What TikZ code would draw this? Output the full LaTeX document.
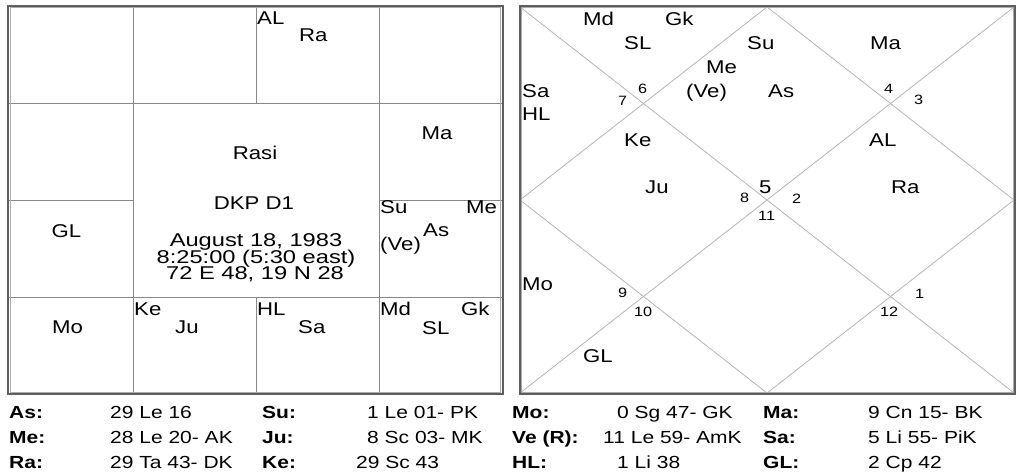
\documentclass[tikz,border=0pt]{standalone}
\usepackage{fontspec}
\setmainfont{Liberation Sans}[FakeStretch=1.2]
\newfontfamily\datefont{Liberation Sans}[FakeStretch=1.28]
\usetikzlibrary{positioning}
\definecolor{gridgray}{HTML}{888888}
\definecolor{diaggray}{HTML}{B4B4B4}
\definecolor{framedark}{HTML}{5E5E5E}
\definecolor{framelight}{HTML}{ABABAB}
\tikzset{
  chartframe/.style={draw=framedark, line width=2pt},
  chartinner/.style={draw=framelight, line width=0.9pt},
  gridline/.style={draw=gridgray, line width=1pt},
  diagline/.style={draw=diaggray, line width=0.8pt},
  planet/.style={anchor=base west, inner sep=0pt,
                 font=\fontsize{18.5}{20}\selectfont},
  planetmid/.style={planet, anchor=base},
  housenum/.style={anchor=base west, inner sep=0pt,
                   font=\fontsize{13.5}{16}\selectfont},
  datetext/.style={anchor=base, inner sep=0pt,
                   font=\datefont\fontsize{18.5}{20}\selectfont},
  tabkey/.style={anchor=base west, inner sep=0pt,
                 font=\fontsize{17.5}{20}\selectfont\bfseries},
  tabval/.style={anchor=base west, inner sep=0pt,
                 font=\fontsize{17.5}{20}\selectfont}
}

\begin{document}
\begin{tikzpicture}[x=1pt, y=-1pt]
  \useasboundingbox (0,0) rectangle (1024,475);

  % rasi chart, south style
  \draw[gridline] (133,7) -- (133,393) (379,7) -- (379,393);
  \draw[gridline] (8,103) -- (502,103) (8,297) -- (502,297);
  \draw[gridline] (256,7) -- (256,103) (256,297) -- (256,393);
  \draw[gridline] (8,200) -- (133,200) (379,200) -- (502,200);
  \draw[chartinner] (10,7.8) rectangle (500.5,392.2);
  \draw[chartframe] (8,6) rectangle (502.5,394);

  % rasi chart, north style
  \coordinate (nw) at (520,7);
  \coordinate (ne) at (1014,7);
  \coordinate (sw) at (520,393);
  \coordinate (se) at (1014,393);
  \coordinate (top) at (767,7);
  \coordinate (bot) at (767,393);
  \coordinate (lft) at (520,200);
  \coordinate (rgt) at (1014,200);
  \draw[diagline] (nw) -- (se) (sw) -- (ne);
  \draw[diagline] (top) -- (rgt) -- (bot) -- (lft) -- cycle;
  \draw[chartinner] (521.8,7.8) rectangle (1013.2,392.2);
  \draw[chartframe] (519.8,6) rectangle (1015,394);

  % planets in the square chart
  \foreach \x/\y/\t [count=\i] in {257/24/AL, 299/41/Ra, 380/213/Su,
      466/213/Me, 423/236/As, 380/250/{(Ve)}, 134/315/Ke, 175/333/Ju,
      257/315/HL, 298/333/Sa, 380/315/Md, 461/315/Gk, 422/334/SL}
    \node[planet] (sq\i) at (\x,\y) {\t};
  \node[planetmid] (sqma) at (437,139) {Ma};
  \node[planetmid] (sqgl) at (66.5,237) {GL};
  \node[planetmid] (sqmo) at (67.5,333) {Mo};
  \node[planetmid] (rasi) at (255,159) {Rasi};
  \node[planetmid] (dkp) at (254,209) {DKP D1};
  \node[datetext] (date1) at (256,246.5) {August 18, 1983};
  \node[datetext] (date2) at (256,263) {8:25:00 (5:30 east)};
  \node[datetext] (date3) at (255,279.5) {72 E 48, 19 N 28};

  % planets in the diamond chart
  \foreach \x/\y/\t [count=\i] in {583/25/Md, 665/25/Gk, 624/49/SL,
      747/49/Su, 870/49/Ma, 706/73/Me, 686/97/{(Ve)}, 768/97/As,
      522/97/Sa, 522/120/HL, 624/146/Ke, 869/146/AL, 645/193/Ju,
      891/193/Ra, 522/290/Mo, 583/362/GL}
    \node[planet] (dm\i) at (\x,\y) {\t};
  \node[planet] (lagna) at (759,193) {5};
  \foreach \x/\y/\h in {638/93/6, 618/105/7, 884/93/4, 914/104/3,
      740/202/8, 792/203/2, 758/220/11, 618/297/9, 634/316/10,
      915/298/1, 880/316/12}
    \node[housenum] (h\h) at (\x,\y) {\h};

  % longitudes
  \foreach \x/\y/\k [count=\i] in {9/418/As, 9/443/Me, 9/468/Ra,
      262/418/Su, 262/443/Ju, 262/468/Ke, 512/418/Mo,
      512/443/{Ve (R)}, 512/468/HL, 763/418/Ma, 763/443/Sa, 763/468/GL}
    \node[tabkey] (key\i) at (\x,\y) {\k:};
  \foreach \x/\y/\v [count=\i] in {110/418/29 Le 16,
      110/443/28 Le 20- AK, 110/468/29 Ta 43- DK,
      367/418/1 Le 01- PK, 367/443/8 Sc 03- MK, 356/468/29 Sc 43,
      617/418/0 Sg 47- GK, 603/443/11 Le 59- AmK, 617/468/1 Li 38,
      868/418/9 Cn 15- BK, 868/443/5 Li 55- PiK, 868/468/2 Cp 42}
    \node[tabval] (val\i) at (\x,\y) {\v};
\end{tikzpicture}
\end{document}
